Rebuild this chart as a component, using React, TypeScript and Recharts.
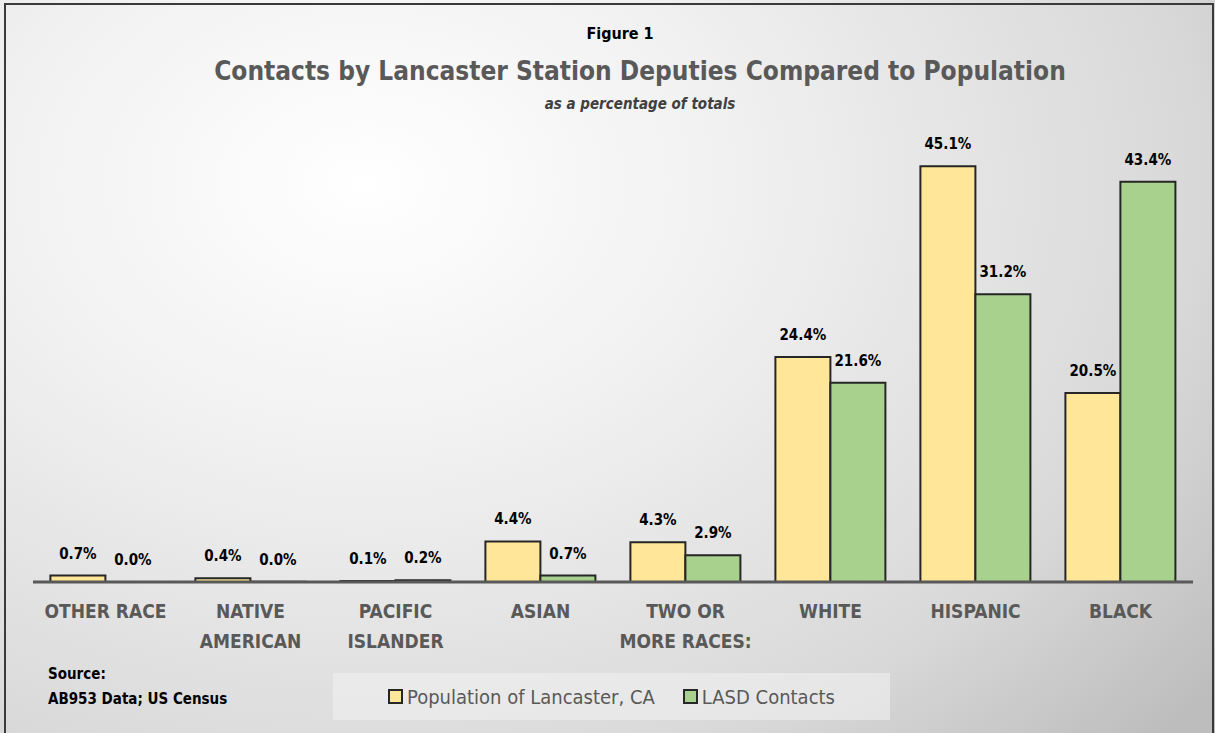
import { BarChart, Bar, XAxis, YAxis, LabelList, Cell } from 'recharts';

const categories = ['OTHER RACE', 'NATIVE AMERICAN', 'PACIFIC ISLANDER', 'ASIAN', 'TWO OR MORE RACES:', 'WHITE', 'HISPANIC', 'BLACK'];
const tickLines = [['OTHER RACE'], ['NATIVE', 'AMERICAN'], ['PACIFIC', 'ISLANDER'], ['ASIAN'], ['TWO OR', 'MORE RACES:'], ['WHITE'], ['HISPANIC'], ['BLACK']];
const population = [0.7, 0.4, 0.1, 4.4, 4.3, 24.4, 45.1, 20.5];
// first value is shown as 0.0% and has no visible bar
const contacts = [0.001, 0.04, 0.2, 0.7, 2.9, 21.6, 31.2, 43.4];

const data = categories.map((c, i) => ({ name: c, pop: population[i], lasd: contacts[i] }));

const FONT = "'Liberation Sans Narrow', 'DejaVu Sans Condensed', 'Open Sans', sans-serif";

function CategoryTick(props: any) {
  const { x, y, index } = props;
  const lines = tickLines[index] || [];
  return (
    <text x={x} y={y + 21} textAnchor="middle" fill="#595959" fontSize={19} fontWeight="bold" fontFamily={FONT}>
      {lines.map((l, i) => (
        <tspan key={i} x={x} dy={i === 0 ? 7 : 30}>{l}</tspan>
      ))}
    </text>
  );
}

const pct = (v: any) => Number(v).toFixed(1) + '%';

export default function App() {
  return (
    <div style={{ position: 'absolute', left: 0, top: 0, width: 1215, height: 733, overflow: 'hidden', fontFamily: FONT,
      background: 'radial-gradient(ellipse 90% 110% at 30% 25%, #ffffff 0%, #f0f0f0 35%, #d9d9d9 75%, #bdbdbd 100%)' }}>
      <div style={{ position: 'absolute', left: 4, top: 3, width: 1206, height: 740, border: '2px solid #3a3a3a' }} />
      <div style={{ position: 'absolute', left: 0, width: 1240, top: 24, textAlign: 'center', fontSize: 16, fontWeight: 'bold', color: '#000' }}>Figure 1</div>
      <div style={{ position: 'absolute', left: 0, width: 1280, top: 56, textAlign: 'center', fontSize: 26, fontWeight: 'bold', color: '#595959' }}>Contacts by Lancaster Station Deputies Compared to Population</div>
      <div style={{ position: 'absolute', left: 0, width: 1280, top: 95, textAlign: 'center', fontSize: 15, fontWeight: 'bold', fontStyle: 'italic', color: '#404040' }}>as a percentage of totals</div>
      <BarChart width={1215} height={733} data={data} margin={{ top: 121, right: 22, bottom: 51, left: 33 }}
        barCategoryGap="12%" barGap={0} style={{ position: 'absolute', left: 0, top: 0 }}>
        <YAxis hide domain={[0, 50]} />
        <XAxis dataKey="name" interval={0} height={100} tickLine={false} axisLine={{ stroke: '#595959', strokeWidth: 3 }} tick={<CategoryTick />} />
        <Bar dataKey="pop" fill="#FFE699" stroke="#262626" strokeWidth={2} isAnimationActive={false}>
          <LabelList dataKey="pop" position="top" offset={17} formatter={pct} fill="#000" fontSize={15} fontWeight="bold" fontFamily={FONT} />
        </Bar>
        <Bar dataKey="lasd" fill="#A9D18E" stroke="#262626" strokeWidth={2} isAnimationActive={false}>
          {contacts.map((v, i) => (
            <Cell key={i} stroke={v < 0.01 ? 'none' : '#262626'} />
          ))}
          <LabelList dataKey="lasd" position="top" offset={17} formatter={pct} fill="#000" fontSize={15} fontWeight="bold" fontFamily={FONT} />
        </Bar>
      </BarChart>
      <div style={{ position: 'absolute', left: 48, top: 662, fontSize: 15, fontWeight: 'bold', color: '#000', lineHeight: '25px' }}>
        Source:<br />AB953 Data; US Census
      </div>
      <div style={{ position: 'absolute', left: 333, top: 673, width: 557, height: 47, background: 'rgba(240,240,240,0.6)',
        display: 'flex', alignItems: 'center', justifyContent: 'center', gap: 28, fontSize: 20, color: '#595959' }}>
        <span style={{ display: 'flex', alignItems: 'center' }}>
          <span style={{ width: 11, height: 11, background: '#FFE699', border: '2px solid #262626', marginRight: 4 }} />Population of Lancaster, CA
        </span>
        <span style={{ display: 'flex', alignItems: 'center' }}>
          <span style={{ width: 11, height: 11, background: '#A9D18E', border: '2px solid #262626', marginRight: 4 }} />LASD Contacts
        </span>
      </div>
    </div>
  );
}
